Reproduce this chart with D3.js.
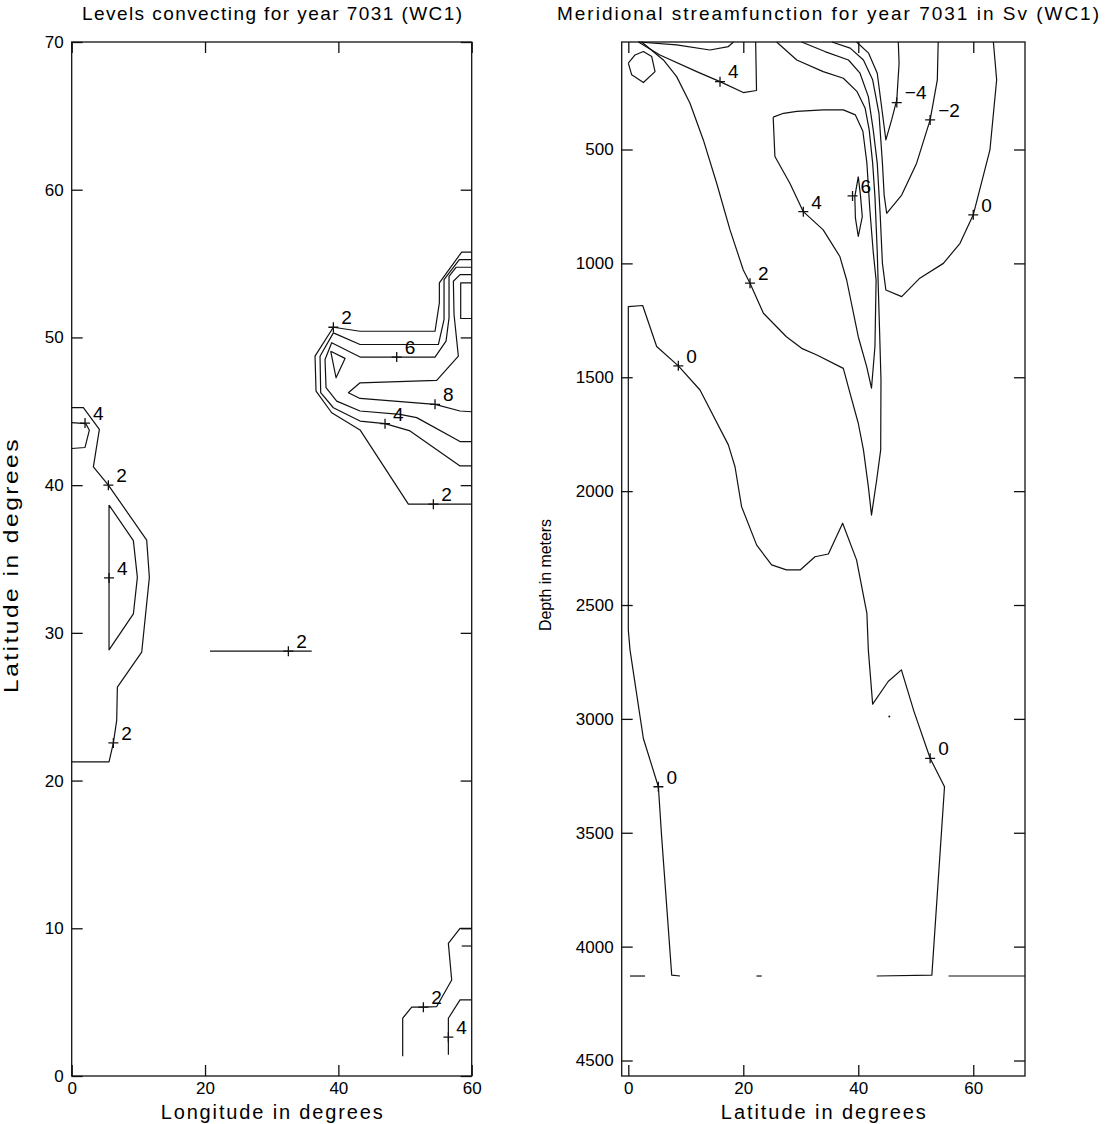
<!DOCTYPE html>
<html>
<head>
<meta charset="utf-8">
<script src="https://cdn.jsdelivr.net/npm/d3@7"></script>
<style>
  body { margin: 0; background: #fff; }
  svg { display: block; }
  text { font-family: "Liberation Sans", Arial, Helvetica, sans-serif; fill: #000; }
</style>
</head>
<body>
<svg id="chart" width="1106" height="1124"></svg>
<script>
// ---------------- Left panel: convecting levels, contours as [longitude, latitude] ----------------
const lonTicks = [0, 20, 40, 60];
const latTicks = [0, 10, 20, 30, 40, 50, 60, 70];

const conv2West = [[0,45.25],[1.75,45.25],[4.15,43.78],[3.25,41.24],[5.5,40.0],[11.25,36.28],[11.65,33.76],[10.5,28.69],[6.85,26.33],[6.75,24.08],[6.25,22.55],[5.6,21.26],[0,21.26]];
const conv4WestNorth = [[0,44.23],[2.1,44.17],[2.65,43.72],[2.0,42.55],[0,42.48]];
const conv4WestLoop = [[5.6,38.65],[9.25,36.24],[9.85,33.76],[9.25,31.28],[5.6,28.85],[5.6,38.65]];
const conv2Central = [[20.75,28.76],[36.0,28.76]];
const conv2East = [[60,55.78],[58.5,55.78],[55.15,53.69],[55.15,52.34],[54.5,50.42],[43.25,50.42],[39.25,50.69],[36.5,48.73],[36.65,46.37],[39.0,44.9],[43.25,43.74],[50.5,38.71],[60,38.71]];
const conv4East = [[60,55.27],[58.15,55.27],[55.85,53.91],[55.85,51.21],[55.0,49.52],[43.25,49.52],[39.25,50.31],[37.25,48.73],[37.35,46.26],[39.25,45.24],[43.25,44.34],[47.0,44.16],[50.75,43.67],[58.25,41.3],[60,41.3]];
const conv6East = [[60,54.75],[57.65,54.75],[56.6,54.14],[56.6,51.32],[56.15,49.75],[54.5,48.67],[43.25,48.67],[39.0,49.64],[38.0,48.51],[38.15,46.6],[39.75,45.69],[43.25,45.02],[49.25,44.79],[51.75,44.57],[58.25,42.95],[60,42.95]];
const conv8East = [[60,54.25],[58.25,54.25],[57.25,53.8],[57.35,51.55],[58.0,48.73],[54.75,47.09],[43.25,46.93],[41.5,46.26],[43.25,45.87],[54.5,45.47],[58.25,45.02],[60,44.97]];
const conv8Pocket = [[38.85,49.07],[41.0,48.58],[39.65,47.27],[38.85,49.07]];
const conv10East = [[60,53.69],[58.35,53.69],[58.35,51.28],[60,51.28]];
const conv2South = [[60,10.0],[58.25,10.0],[56.5,8.98],[57.0,6.5],[54.75,4.7],[52.75,4.66],[51.0,4.66],[49.65,3.91],[49.65,1.33]];
const conv4South = [[60,5.15],[58.25,5.15],[56.5,3.91],[56.5,1.44]];
const conv2SouthStub = [[58.5,8.8],[60,8.8]];

// contour labels: [longitude, latitude, text]
const convLabels = [
  [2.0,44.2,"4"], [5.5,40.0,"2"], [5.6,33.72,"4"], [6.25,22.55,"2"], [32.5,28.76,"2"],
  [39.25,50.69,"2"], [48.75,48.67,"6"], [54.5,45.47,"8"], [47.0,44.16,"4"], [54.25,38.71,"2"],
  [52.75,4.66,"2"], [56.5,2.63,"4"]
];

// ---------------- Right panel: meridional streamfunction, contours as [latitude, depth in m] ----------------
const mocLatTicks = [0, 20, 40, 60];
const depthTicks = [500, 1000, 1500, 2000, 2500, 3000, 3500, 4000, 4500];

const mocHexagon = [[0.0,121],[1.17,85],[2.62,70],[4.07,92],[4.65,158],[2.62,206],[0.59,172],[0.0,121]];
const mocSurfaceCap = [[1.75,28],[8.4,41],[14.2,63],[17.4,48],[18.3,28]];
const mocPos4North = [[1.75,28],[5.5,85],[11.9,158],[15.95,202],[20.0,250],[22.3,241],[22.15,28]];
const mocPos2 = [[2.33,28],[6.1,107],[8.41,180],[10.73,297],[13.05,458],[15.37,648],[17.69,853],[20.0,1029],[21.17,1087],[23.5,1219],[27.5,1322],[30.15,1373],[32.8,1402],[37.4,1461],[38.56,1570],[40.0,1702],[40.9,1819],[41.75,1980],[42.3,2105],[43.2,1951],[43.9,1819],[43.95,1512],[43.7,1292],[43.3,950],[42.9,707],[42.5,560],[41.9,414],[41.2,319],[39.8,246],[37.4,187],[33.9,158],[29.3,107],[25.8,28]];
const mocPos4 = [[25.2,358],[27.0,341],[29.3,333],[33.9,326],[37.4,326],[39.5,348],[40.8,420],[41.5,560],[42.0,760],[42.6,950],[43.1,1073],[42.9,1365],[42.3,1548],[41.46,1453],[40.0,1322],[37.98,1073],[36.8,970],[33.9,853],[30.44,773],[28.1,648],[25.5,531],[25.2,358]];
const mocPos6 = [[40.0,619],[40.4,707],[40.7,795],[40.0,882],[39.5,800],[39.4,707],[40.0,619]];
const mocZeroUpper = [[30.15,28],[34.2,70],[38.3,107],[40.3,165],[41.75,268],[42.6,414],[43.3,560],[43.8,780],[44.2,1000],[44.8,1117],[47.55,1146],[50.7,1065],[54.8,1000],[57.7,912],[60.0,787],[62.9,502],[64.07,194],[63.5,28]];
const mocNeg2 = [[35.4,28],[38.6,55],[40.9,107],[42.5,194],[43.6,341],[44.2,560],[44.5,700],[44.94,780],[47.55,700],[50.15,560],[52.5,370],[53.75,194],[53.9,28]];
const mocNeg4 = [[39.7,28],[41.8,77],[43.3,165],[44.2,341],[44.8,458],[45.8,370],[46.7,282],[47.1,121],[46.96,28]];
const mocZeroDeep = [[9.0,4129],[7.55,4125],[5.8,3518],[5.23,3298],[2.62,3086],[1.17,2844],[0.3,2698],[0.0,2610],[0.0,1190],[2.5,1185],[4.93,1365],[8.7,1450],[12.47,1556],[17.4,1797],[18.56,1893],[19.7,2068],[22.33,2237],[24.93,2324],[27.5,2346],[29.9,2346],[32.47,2288],[34.8,2276],[37.28,2141],[39.7,2302],[41.5,2537],[41.75,2698],[42.5,2935],[45.2,2836],[47.5,2785],[49.7,2968],[52.5,3173],[55.0,3298],[52.8,4125],[43.2,4129]];
const mocFloorA = [[0.3,4129],[2.9,4129]];
const mocFloorB = [[22.3,4129],[23.2,4129]];
const mocFloorC = [[55.7,4129],[69.0,4129]];
const mocSpeck = [[45.4,2990]];

// contour labels: [latitude, depth, text]
const mocLabels = [
  [15.95,202,"4"], [21.17,1087,"2"], [30.44,773,"4"], [39.0,704,"6"],
  [46.7,294,"\u22124"], [52.5,370,"\u22122"], [60.0,787,"0"],
  [8.7,1450,"0"], [5.23,3298,"0"], [52.5,3173,"0"]
];

// ---------------- drawing ----------------
const svg = d3.select("#chart");
const INK = "#111";
const TICK = 11;

function drawPanel(cfg) {
  const g = svg.append("g");
  const x = d3.scaleLinear().domain(cfg.xDomain).range([cfg.left, cfg.right]);
  const y = d3.scaleLinear().domain(cfg.yDomain).range([cfg.top, cfg.bottom]);
  const line = d3.line().x(d => x(d[0])).y(d => y(d[1]));

  // contour lines
  g.append("g").selectAll("path").data(cfg.contours).join("path")
    .attr("d", line)
    .attr("fill", "none")
    .attr("stroke", INK)
    .attr("stroke-width", 1.2)
    .attr("stroke-linejoin", "round");

  // isolated points
  g.append("g").selectAll("circle").data(cfg.points || []).join("circle")
    .attr("cx", d => x(d[0])).attr("cy", d => y(d[1])).attr("r", 1).attr("fill", INK);

  // label markers ("+") and values
  const lab = g.append("g").selectAll("g").data(cfg.labels).join("g")
    .attr("transform", d => `translate(${x(d[0])},${y(d[1])})`);
  lab.append("path").attr("d", "M-5,0H5M0,-5V5").attr("stroke", INK).attr("stroke-width", 1.3);
  lab.append("text").attr("x", 8).attr("y", -10).attr("dy", "0.36em")
    .attr("font-size", 19).text(d => d[2]);

  // axes with inward ticks
  const styleAxis = a => {
    a.select(".domain").remove();
    a.selectAll(".tick line").attr("stroke", INK).attr("stroke-width", 1.3);
    a.selectAll(".tick text").attr("font-size", 17).attr("fill", "#000")
      .attr("font-family", '"Liberation Sans", Arial, sans-serif');
  };
  g.append("g").attr("transform", `translate(0,${cfg.bottom})`)
    .call(d3.axisBottom(x).tickValues(cfg.xTicks).tickSize(-TICK).tickPadding(6).tickFormat(d3.format("d")))
    .call(styleAxis);
  g.append("g").attr("transform", `translate(0,${cfg.top})`)
    .call(d3.axisTop(x).tickValues(cfg.xTicks).tickSize(-TICK).tickFormat("")).call(styleAxis);
  g.append("g").attr("transform", `translate(${cfg.left},0)`)
    .call(d3.axisLeft(y).tickValues(cfg.yTicks).tickSize(-TICK).tickPadding(8).tickFormat(d3.format("d")))
    .call(styleAxis);
  g.append("g").attr("transform", `translate(${cfg.right},0)`)
    .call(d3.axisRight(y).tickValues(cfg.yTicks).tickSize(-TICK).tickFormat("")).call(styleAxis);

  // frame
  g.append("rect").attr("x", cfg.left).attr("y", cfg.top)
    .attr("width", cfg.right - cfg.left).attr("height", cfg.bottom - cfg.top)
    .attr("fill", "none").attr("stroke", INK).attr("stroke-width", 1.3);

  // titles
  const cx = (cfg.left + cfg.right) / 2;
  g.append("text").attr("x", cfg.titleX).attr("y", 20).attr("text-anchor", "middle")
    .attr("font-size", 19).attr("textLength", cfg.titleLen).attr("lengthAdjust", "spacing")
    .text(cfg.title);
  g.append("text").attr("x", cx).attr("y", 1119).attr("text-anchor", "middle")
    .attr("font-size", 20).attr("textLength", cfg.xLabelLen).attr("lengthAdjust", "spacing")
    .text(cfg.xLabel);
  g.append("text")
    .attr("transform", `translate(${cfg.yLabelX},${cfg.yLabelY}) rotate(-90)`)
    .attr("text-anchor", "middle").attr("font-size", cfg.yLabelSize)
    .attr("font-family", cfg.yLabelFont)
    .attr("letter-spacing", cfg.yLabelSpacing)
    .attr("textLength", cfg.yLabelLen).attr("lengthAdjust", "spacingAndGlyphs")
    .text(cfg.yLabel);
}

drawPanel({
  left: 71.7, right: 471.7, top: 42, bottom: 1076,
  xDomain: [0, 60], yDomain: [70, 0],
  xTicks: lonTicks, yTicks: latTicks,
  contours: [conv2West, conv4WestNorth, conv4WestLoop, conv2Central, conv2East, conv4East, conv6East,
             conv8East, conv8Pocket, conv10East, conv2South, conv4South, conv2SouthStub],
  labels: convLabels,
  title: "Levels convecting for year 7031 (WC1)", titleX: 272, titleLen: 380,
  xLabel: "Longitude in degrees", xLabelLen: 222,
  yLabel: "Latitude in degrees", yLabelX: 18, yLabelY: 565, yLabelLen: 256, yLabelSize: 20,
  yLabelFont: '"Liberation Sans", Arial, sans-serif', yLabelSpacing: 2
});

drawPanel({
  left: 621.7, right: 1025, top: 42, bottom: 1076,
  xDomain: [-1.15, 69], yDomain: [28, 4568],
  xTicks: mocLatTicks, yTicks: depthTicks,
  contours: [mocHexagon, mocSurfaceCap, mocPos4North, mocPos2, mocPos4, mocPos6, mocZeroUpper,
             mocNeg2, mocNeg4, mocZeroDeep, mocFloorA, mocFloorB, mocFloorC],
  points: mocSpeck,
  labels: mocLabels,
  title: "Meridional streamfunction for year 7031 in Sv (WC1)", titleX: 828, titleLen: 542,
  xLabel: "Latitude in degrees", xLabelLen: 205,
  yLabel: "Depth in meters", yLabelX: 551, yLabelY: 575, yLabelLen: 112, yLabelSize: 17,
  yLabelFont: '"Liberation Sans Narrow", "DejaVu Sans Condensed", Arial, sans-serif', yLabelSpacing: 0
});
</script>
</body>
</html>
